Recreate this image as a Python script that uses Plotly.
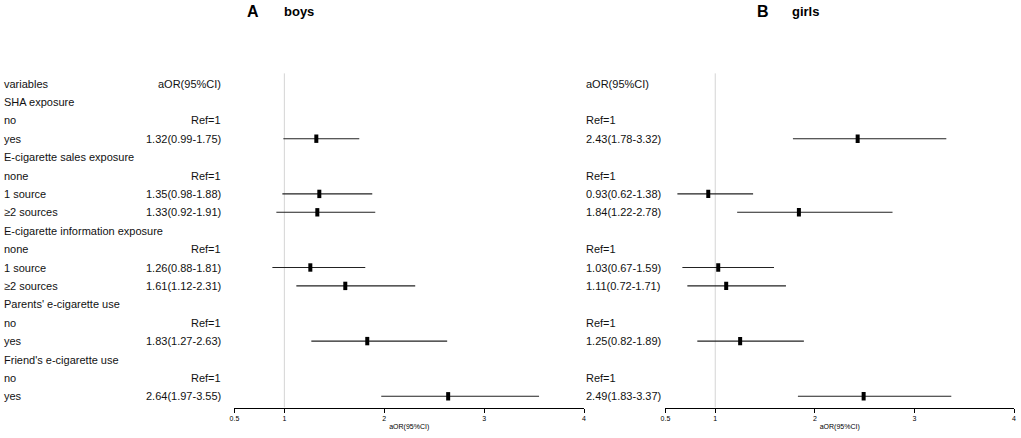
import plotly.graph_objects as go

W, H = 1021, 438

variables = ["variables", "SHA exposure", "no", "yes",
             "E-cigarette sales exposure", "none", "1 source", "≥2 sources",
             "E-cigarette information exposure", "none", "1 source", "≥2 sources",
             "Parents' e-cigarette use", "no", "yes",
             "Friend's e-cigarette use", "no", "yes"]
# rows holding the reference category
ref_rows = [2, 5, 9, 13, 16]

boys_or = [None, None, None, 1.32, None, None, 1.35, 1.33, None, None, 1.26, 1.61, None, None, 1.83, None, None, 2.64]
boys_lo = [None, None, None, 0.99, None, None, 0.98, 0.92, None, None, 0.88, 1.12, None, None, 1.27, None, None, 1.97]
boys_hi = [None, None, None, 1.75, None, None, 1.88, 1.91, None, None, 1.81, 2.31, None, None, 2.63, None, None, 3.55]

girls_or = [None, None, None, 2.43, None, None, 0.93, 1.84, None, None, 1.03, 1.11, None, None, 1.25, None, None, 2.49]
girls_lo = [None, None, None, 1.78, None, None, 0.62, 1.22, None, None, 0.67, 0.72, None, None, 0.82, None, None, 1.83]
girls_hi = [None, None, None, 3.32, None, None, 1.38, 2.78, None, None, 1.59, 1.71, None, None, 1.89, None, None, 3.37]

tickvals = [0.5, 1, 2, 3, 4]
ticktext = ["0.5", "1", "2", "3", "4"]

rows = list(range(len(variables)))
font_txt = "Liberation Sans Narrow, Arial Narrow, Liberation Sans, Arial, sans-serif"
TXT = 11


def col_text(orv, lo, hi):
    out = []
    for i in rows:
        if i == 0:
            out.append("aOR(95%CI)")
        elif i in ref_rows:
            out.append("Ref=1")
        elif orv[i] is not None:
            out.append(f"{orv[i]:.2f}({lo[i]:.2f}-{hi[i]:.2f})")
        else:
            out.append("")
    return out


fig = go.Figure()

for orv, lo, hi, xa in [(boys_or, boys_lo, boys_hi, "x"), (girls_or, girls_lo, girls_hi, "x2")]:
    ys = [i for i in rows if orv[i] is not None]
    xs = [orv[i] for i in ys]
    plus = [hi[i] - orv[i] for i in ys]
    minus = [orv[i] - lo[i] for i in ys]
    fig.add_trace(go.Scatter(
        x=xs, y=ys, xaxis=xa, yaxis="y", mode="markers",
        marker=dict(symbol="line-ns", size=6, line=dict(width=4, color="black"), color="black"),
        error_x=dict(type="data", symmetric=False, array=plus, arrayminus=minus,
                     width=0, thickness=1.1, color="#222222"),
        showlegend=False, hoverinfo="skip"))
    # reference line at OR = 1
    fig.add_shape(type="line", xref=xa, yref="y", x0=1, x1=1, y0=-0.55, y1=17.6,
                  line=dict(color="#d4d4d4", width=1), layer="below")

# text columns
for i in rows:
    fig.add_annotation(x=-3 / W, y=i, xref="paper", yref="y", text=variables[i],
                       showarrow=False, xanchor="left", yanchor="middle",
                       font=dict(family=font_txt, size=TXT, color="#111111"))
boys_txt = col_text(boys_or, boys_lo, boys_hi)
girls_txt = col_text(girls_or, girls_lo, girls_hi)
for i in rows:
    if boys_txt[i]:
        fig.add_annotation(x=220 / W, y=i, xref="paper", yref="y", text=boys_txt[i],
                           showarrow=False, xanchor="right", yanchor="middle",
                           font=dict(family=font_txt, size=TXT, color="#111111"))
    if girls_txt[i]:
        fig.add_annotation(x=583 / W, y=i, xref="paper", yref="y", text=girls_txt[i],
                           showarrow=False, xanchor="left", yanchor="middle",
                           font=dict(family=font_txt, size=TXT, color="#111111"))

# panel titles
for letter, lx, name, nx in [("A", 249.5, "boys", 296.5), ("B", 763, "girls", 806)]:
    fig.add_annotation(x=lx / W, y=1 - 11 / H, xref="paper", yref="paper", text=f"<b>{letter}</b>",
                       showarrow=False, xanchor="center", yanchor="middle",
                       font=dict(family="Liberation Sans, Arial, sans-serif", size=16, color="black"))
    fig.add_annotation(x=nx / W, y=1 - 11 / H, xref="paper", yref="paper", text=f"<b>{name}</b>",
                       showarrow=False, xanchor="center", yanchor="middle",
                       font=dict(family=font_txt, size=13, color="black"))

axis_common = dict(range=[0.5, 4], showline=True, linecolor="black", linewidth=1,
                   ticks="outside", ticklen=4, tickcolor="black", tickwidth=1,
                   tickvals=tickvals, ticktext=ticktext, showgrid=False, zeroline=False,
                   tickfont=dict(family=font_txt, size=7, color="black"),
                   title=dict(text="aOR(95%CI)", font=dict(family=font_txt, size=7, color="black"),
                              standoff=2),
                   anchor="free", position=1 - 408 / H)

fig.update_layout(
    width=W, height=H,
    margin=dict(l=0, r=0, t=0, b=0, pad=0),
    paper_bgcolor="white", plot_bgcolor="white",
    xaxis=dict(domain=[231 / W, 583 / W], **axis_common),
    xaxis2=dict(domain=[665 / W, 1016 / W], **axis_common),
    yaxis=dict(range=[(H - 83.5) / 18.4, -83.5 / 18.4], domain=[0, 1], visible=False,
               showgrid=False, zeroline=False),
)

fig.write_html("out.html", config={"displayModeBar": False},
               post_script="document.body.style.margin='0';document.body.style.overflow='hidden';")
